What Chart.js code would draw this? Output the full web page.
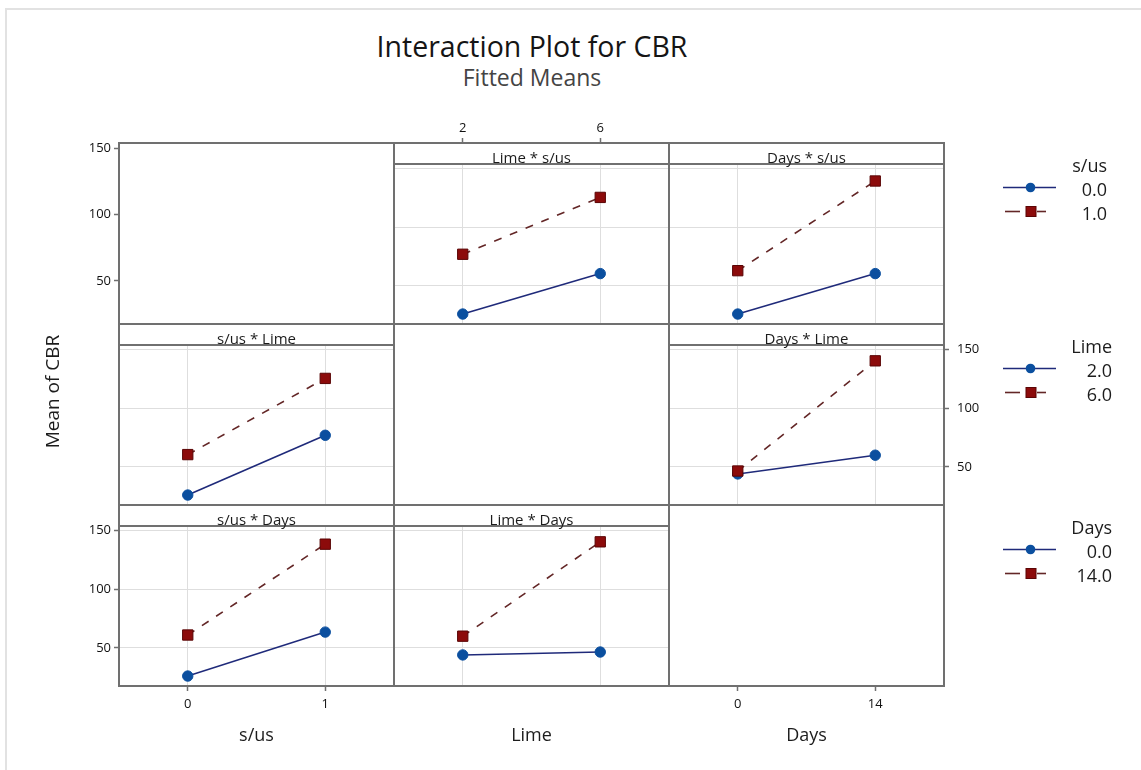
<!DOCTYPE html>
<html>
<head>
<meta charset="utf-8">
<script src="https://cdn.jsdelivr.net/npm/chart.js@4.4.0/dist/chart.umd.min.js"></script>
<style>
  body { margin: 0; background: #fff; }
  #wrap { position: relative; width: 1141px; height: 770px; overflow: hidden; background: #fff; font-family: 'Open Sans', sans-serif; }
  #wrap canvas { position: absolute; }
  .frame { position: absolute; border: 2px solid #707070; box-sizing: border-box; pointer-events: none; }
  .strip { position: absolute; background: #fff; border-bottom: 2px solid #707070; box-sizing: border-box; }
  .txt { position: absolute; white-space: nowrap; color: #1c1c1c; }
  .edge { position: absolute; background: #e2e2e2; }
</style>
</head>
<body>
<div id="wrap"></div>
<script>
// factor levels
const susLevels = [0, 1];
const limeLevels = [2, 6];
const daysLevels = [0, 14];
const susLegend = ['0.0', '1.0'];
const limeLegend = ['2.0', '6.0'];
const daysLegend = ['0.0', '14.0'];
const yTicks = [50, 100, 150];

// fitted means (first array = low level of the trace factor, second = high level)
const limeSus_s0 = [26, 60.5];
const limeSus_s1 = [77, 125.5];
const daysSus_s0 = [26, 60.5];
const daysSus_s1 = [63, 139.5];
const susLime_l2 = [26, 77];
const susLime_l6 = [60.5, 125.5];
const daysLime_l2 = [44, 60];
const daysLime_l6 = [46.5, 140.5];
const susDays_d0 = [26, 63.5];
const susDays_d14 = [61, 138.5];
const limeDays_d0 = [44, 46.5];
const limeDays_d14 = [60, 140.5];

const FONT = "'Open Sans', sans-serif";
Chart.defaults.font.family = FONT;

const W0 = 1141;
const COLS = [119, 394, 669], PW = 275;
const ROWS = [143, 324, 505], PH = 181, STRIP = 21, M = 14;
const yMin = 17.5, yMax = 154;
const yMaxStrip = yMax + STRIP * (yMax - yMin) / (PH - STRIP);
const colLevels = [susLevels, limeLevels, daysLevels];
const colRange = [[-0.5, 1.5], [0, 8], [-7, 21]];

const lowStyle = { borderColor: '#1F2A7A', borderWidth: 1.6, pointStyle: 'circle', pointRadius: 5.2,
  pointBackgroundColor: '#0B4F9F', pointBorderColor: '#0B4F9F', pointBorderWidth: 1, order: 2 };
const highStyle = { borderColor: '#632626', borderWidth: 1.6, borderDash: [8, 9], pointStyle: 'rect', pointRadius: 7.3,
  pointBackgroundColor: '#8C0B0B', pointBorderColor: '#5A0505', pointBorderWidth: 1, order: 1 };

const panels = [
  { r: 0, c: 0, diag: true, yAxis: 'left' },
  { r: 0, c: 1, title: 'Lime * s/us', a: limeSus_s0, b: limeSus_s1, xAxis: 'top' },
  { r: 0, c: 2, title: 'Days * s/us', a: daysSus_s0, b: daysSus_s1 },
  { r: 1, c: 0, title: 's/us * Lime', a: susLime_l2, b: susLime_l6 },
  { r: 1, c: 1, diag: true },
  { r: 1, c: 2, title: 'Days * Lime', a: daysLime_l2, b: daysLime_l6, yAxis: 'right' },
  { r: 2, c: 0, title: 's/us * Days', a: susDays_d0, b: susDays_d14, yAxis: 'left', xAxis: 'bottom' },
  { r: 2, c: 1, title: 'Lime * Days', a: limeDays_d0, b: limeDays_d14 },
  { r: 2, c: 2, diag: true, xAxis: 'bottom' }
];

const wrap = document.getElementById('wrap');

function addText(text, x, cy, size, align, extra) {
  const d = document.createElement('div');
  d.className = 'txt';
  const lh = Math.round(size * 1.4);
  d.style.fontSize = size + 'px';
  d.style.lineHeight = lh + 'px';
  d.style.top = (cy - lh / 2) + 'px';
  if (align === 'right') { d.style.right = (W0 - x) + 'px'; d.style.textAlign = 'right'; }
  else if (align === 'center') { d.style.left = (x - 300) + 'px'; d.style.width = '600px'; d.style.textAlign = 'center'; }
  else d.style.left = x + 'px';
  if (extra) Object.assign(d.style, extra);
  d.textContent = text;
  wrap.appendChild(d);
  return d;
}

const fit = size => s => {
  if (s.isHorizontal()) s.height = size; else s.width = size;
  s.paddingTop = s.paddingBottom = s.paddingLeft = s.paddingRight = 0;
};

function makePanel(p) {
  if (p.diag && !p.xAxis && !p.yAxis) return;
  const L = COLS[p.c], T = ROWS[p.r];
  const ax = { left: 0, right: 0, top: 0, bottom: 0 };
  if (p.yAxis) ax[p.yAxis] = 40;
  if (p.xAxis) ax[p.xAxis] = 30;
  const cv = document.createElement('canvas');
  cv.width = PW + ax.left + ax.right + 2 * M;
  cv.height = PH + ax.top + ax.bottom + 2 * M;
  cv.style.left = (L - ax.left - M) + 'px';
  cv.style.top = (T - ax.top - M) + 'px';
  wrap.appendChild(cv);

  const showX = !!p.xAxis, showY = !!p.yAxis;
  const lv = colLevels[p.c];
  const datasets = p.diag ? [] : [
    Object.assign({ data: lv.map((x, i) => ({ x, y: p.a[i] })), showLine: true }, lowStyle),
    Object.assign({ data: lv.map((x, i) => ({ x, y: p.b[i] })), showLine: true }, highStyle)
  ];
  new Chart(cv, {
    type: 'scatter',
    data: { datasets },
    options: {
      responsive: false, animation: false, events: [], devicePixelRatio: 1,
      layout: { padding: M },
      plugins: { legend: { display: false }, tooltip: { enabled: false } },
      scales: {
        x: {
          type: 'linear', position: p.xAxis || 'bottom',
          min: colRange[p.c][0], max: colRange[p.c][1],
          afterBuildTicks: s => { s.ticks = lv.map(v => ({ value: v })); },
          afterFit: fit(showX ? 30 : 0),
          border: { display: false },
          grid: { display: showX || !p.diag, drawOnChartArea: !p.diag, drawTicks: showX, tickLength: 5,
                  tickColor: '#707070', tickWidth: 1.5, color: '#dedede', lineWidth: 1 },
          ticks: { display: showX, autoSkip: false, maxRotation: 0, padding: p.xAxis === 'top' ? 2 : 5,
                   color: '#111', font: { size: 13 }, callback: v => String(v) }
        },
        y: {
          type: 'linear', position: p.yAxis || 'left',
          min: yMin, max: p.diag ? yMax : yMaxStrip,
          afterBuildTicks: s => { s.ticks = yTicks.map(v => ({ value: v })); },
          afterFit: fit(showY ? 40 : 0),
          border: { display: false },
          grid: { display: showY || !p.diag, drawOnChartArea: !p.diag, drawTicks: showY, tickLength: 5,
                  tickColor: '#707070', tickWidth: 1.5, color: '#dedede', lineWidth: 1 },
          ticks: { display: showY, autoSkip: false, padding: p.yAxis === 'right' ? 8 : 3,
                   color: '#111', font: { size: 13 }, callback: v => String(v) }
        }
      }
    }
  });
}

panels.forEach(makePanel);

// strips and frames
panels.forEach(p => {
  const L = COLS[p.c], T = ROWS[p.r];
  if (p.title) {
    const s = document.createElement('div');
    s.className = 'strip';
    Object.assign(s.style, { left: L + 'px', top: T + 'px', width: PW + 'px', height: (STRIP + 1) + 'px' });
    wrap.appendChild(s);
    addText(p.title, L + PW / 2, T + 14, 15, 'center');
  }
});
panels.forEach(p => {
  const f = document.createElement('div');
  f.className = 'frame';
  Object.assign(f.style, { left: (COLS[p.c] - 1) + 'px', top: (ROWS[p.r] - 1) + 'px', width: (PW + 2) + 'px', height: (PH + 2) + 'px' });
  wrap.appendChild(f);
});

// outer edge of the picture
const e1 = document.createElement('div'); e1.className = 'edge';
Object.assign(e1.style, { left: '5px', top: '8px', width: '1136px', height: '2px' });
const e2 = document.createElement('div'); e2.className = 'edge';
Object.assign(e2.style, { left: '5px', top: '8px', width: '2px', height: '762px' });
wrap.appendChild(e1); wrap.appendChild(e2);

// titles
addText('Interaction Plot for CBR', 532, 46, 28.5, 'center', { color: '#151515' });
addText('Fitted Means', 532, 77, 23, 'center', { color: '#444' });
addText('s/us', COLS[0] + PW / 2, 734, 18, 'center');
addText('Lime', COLS[1] + PW / 2, 734, 18, 'center');
addText('Days', COLS[2] + PW / 2, 734, 18, 'center');
addText('Mean of CBR', 52, 391, 19, 'center', { transform: 'rotate(-90deg)' });

// legend
const legendGroups = [
  { title: 's/us', labels: susLegend },
  { title: 'Lime', labels: limeLegend },
  { title: 'Days', labels: daysLegend }
];
const legTop = [165, 346, 527], legRight = [1107, 1112, 1112];
const ns = 'http://www.w3.org/2000/svg';
const svg = document.createElementNS(ns, 'svg');
svg.setAttribute('width', '1141'); svg.setAttribute('height', '770');
svg.style.position = 'absolute'; svg.style.left = '0'; svg.style.top = '0';
wrap.appendChild(svg);
function el(tag, attrs) {
  const e = document.createElementNS(ns, tag);
  for (const k in attrs) e.setAttribute(k, attrs[k]);
  svg.appendChild(e);
}
legendGroups.forEach((g, i) => {
  addText(g.title, legRight[i], legTop[i], 18, 'right');
  g.labels.forEach((lab, j) => {
    const y = legTop[i] + 22.5 + j * 24;
    addText(lab, legRight[i], y + 1.5, 18, 'right');
    if (j === 0) {
      el('line', { x1: 1003, y1: y, x2: 1056, y2: y, stroke: lowStyle.borderColor, 'stroke-width': 1.6 });
      el('circle', { cx: 1030.5, cy: y, r: 4.8, fill: lowStyle.pointBackgroundColor });
    } else {
      el('line', { x1: 1005, y1: y, x2: 1020, y2: y, stroke: highStyle.borderColor, 'stroke-width': 1.6 });
      el('line', { x1: 1037, y1: y, x2: 1046, y2: y, stroke: highStyle.borderColor, 'stroke-width': 1.6 });
      el('rect', { x: 1026, y: y - 5, width: 10, height: 10, fill: highStyle.pointBackgroundColor,
                   stroke: highStyle.pointBorderColor, 'stroke-width': 1 });
    }
  });
});
</script>
</body>
</html>
